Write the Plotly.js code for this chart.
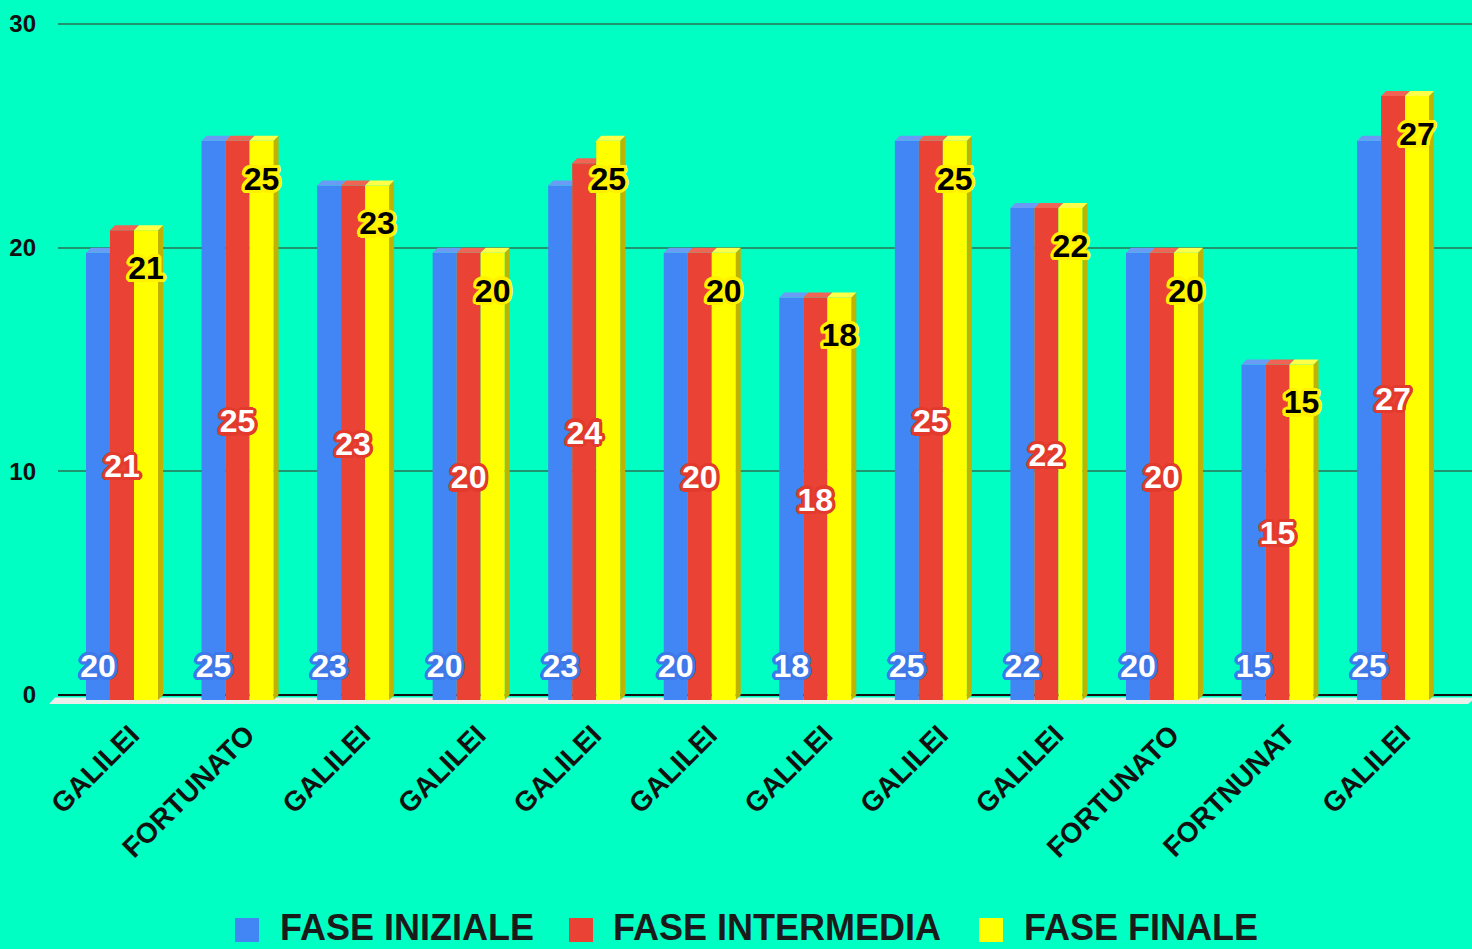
<!DOCTYPE html>
<html>
<head>
<meta charset="utf-8">
<script src="https://cdn.plot.ly/plotly-3.0.1.min.js"></script>
<style>
  html, body { margin: 0; padding: 0; background: #00FFC2; }
  #chart { width: 1472px; height: 949px; }
</style>
</head>
<body>
<div id="chart"></div>
<script>
// ---------------- data ----------------
const categories = ['GALILEI', 'FORTUNATO', 'GALILEI', 'GALILEI', 'GALILEI', 'GALILEI',
                    'GALILEI', 'GALILEI', 'GALILEI', 'FORTUNATO', 'FORTNUNAT', 'GALILEI'];
const faseIniziale   = [20, 25, 23, 20, 23, 20, 18, 25, 22, 20, 15, 25];
const faseIntermedia = [21, 25, 23, 20, 24, 20, 18, 25, 22, 20, 15, 27];
const faseFinale     = [21, 25, 23, 20, 25, 20, 18, 25, 22, 20, 15, 27];
const seriesNames = ['FASE INIZIALE', 'FASE INTERMEDIA', 'FASE FINALE'];
const yTickVals = [0, 10, 20, 30];

// ---------------- styling / geometry ----------------
const FONT = 'Liberation Sans, Arial, Helvetica, sans-serif';
const BG = '#00FFC2';
const colors    = ['#4285F4', '#EA4335', '#FFFF00'];
const topColors = ['#6A9CF6', '#EF6455', '#FFFF4A'];
const sideColor = '#BDB300';
const labelFill    = ['#FFFFFF', '#FFFFFF', '#000000'];
const labelOutline = ['#3F78E8', '#E23A2C', '#FFF200'];

const PL = 58, PR = 1472, PT = 20, PB = 706;        // plot area in px
const W = PR - PL, H = PB - PT;
const xRange = [-0.5539, 11.6833];
const gridRange = [-0.4917, 30.1788];
const pxPerX = W / (xRange[1] - xRange[0]);
const pxPerY = H / (gridRange[1] - gridRange[0]);
const depthPx = 5;
const dx = depthPx / pxPerX;
const dy = depthPx / pxPerY;
const barRange = [gridRange[0] + dy, gridRange[1] + dy];
const barW = 24 / pxPerX;
const centerOff = [-barW, 0, barW];
const labelDrop = 4 / pxPerY;

const px2paperX = p => (p - PL) / W;
const px2paperY = p => (PB - p) / H;

const series = [faseIniziale, faseIntermedia, faseFinale];
const xs = categories.map((_, i) => i);

function outline(c, r) {
  const s = [];
  const d = r * 0.7071;
  s.push(`${r}px 0 0 ${c}`, `-${r}px 0 0 ${c}`, `0 ${r}px 0 ${c}`, `0 -${r}px 0 ${c}`);
  s.push(`${d}px ${d}px 0 ${c}`, `-${d}px -${d}px 0 ${c}`, `${d}px -${d}px 0 ${c}`, `-${d}px ${d}px 0 ${c}`);
  s.push(`${r*0.4}px ${r*0.9}px 0 ${c}`, `-${r*0.4}px ${r*0.9}px 0 ${c}`, `${r*0.4}px -${r*0.9}px 0 ${c}`, `-${r*0.4}px -${r*0.9}px 0 ${c}`);
  s.push(`${r*0.9}px ${r*0.4}px 0 ${c}`, `-${r*0.9}px ${r*0.4}px 0 ${c}`, `${r*0.9}px -${r*0.4}px 0 ${c}`, `-${r*0.9}px -${r*0.4}px 0 ${c}`);
  return s.join(', ');
}

const traces = [];

// side face of the last (yellow) bar — on the back (grid) axes, below the front faces
(function () {
  const px = [], py = [];
  faseFinale.forEach((v, i) => {
    const xr = i + centerOff[2] + barW / 2;
    px.push(xr, xr + dx, xr + dx, xr, xr, null);
    py.push(v - dy, v, 0, -dy, v - dy, null);
  });
  traces.push({
    type: 'scatter', mode: 'lines', x: px, y: py, fill: 'toself',
    fillcolor: sideColor, line: { width: 0, color: sideColor },
    xaxis: 'x', yaxis: 'y', showlegend: false, hoverinfo: 'skip'
  });
})();

// front faces (bars)
series.forEach((vals, s) => {
  traces.push({
    type: 'bar', x: xs, y: vals, name: seriesNames[s],
    width: barW, offset: centerOff[s] - barW / 2,
    marker: { color: colors[s], line: { width: 0 } },
    xaxis: 'x', yaxis: 'y2', showlegend: false, hoverinfo: 'skip'
  });
});

// top faces
series.forEach((vals, s) => {
  const px = [], py = [];
  vals.forEach((v, i) => {
    const xl = i + centerOff[s] - barW / 2, xr = xl + barW;
    const next = s < 2 ? series[s + 1][i] : null;
    if (next !== null && next > v) {
      px.push(xl, xr, xr, xl + dx, xl, null);
      py.push(v, v, v + dy, v + dy, v, null);
    } else {
      px.push(xl, xr, xr + dx, xl + dx, xl, null);
      py.push(v, v, v + dy, v + dy, v, null);
    }
  });
  traces.push({
    type: 'scatter', mode: 'lines', x: px, y: py, fill: 'toself',
    fillcolor: topColors[s], line: { width: 0, color: topColors[s] },
    xaxis: 'x', yaxis: 'y2', showlegend: false, hoverinfo: 'skip'
  });
});

// value labels
const labelY = [
  vals => vals.map(() => 1.56 - labelDrop),
  vals => vals.map(v => v / 2 - labelDrop),
  vals => vals.map(v => v - 1.65 - labelDrop)
];
series.forEach((vals, s) => {
  traces.push({
    type: 'scatter', mode: 'text',
    x: xs.map(i => i + centerOff[s]), y: labelY[s](vals),
    text: vals.map(String), textposition: 'middle center',
    textfont: { family: FONT, size: 32, weight: 'bold', color: labelFill[s],
                shadow: outline(labelOutline[s], 3.2) },
    cliponaxis: false, xaxis: 'x', yaxis: 'y2', showlegend: false, hoverinfo: 'skip'
  });
});

// custom legend (large squares)
const legendItems = [
  { sq: 235, tx: 278 },
  { sq: 569, tx: 611 },
  { sq: 979, tx: 1022 }
];
const shapes = [];
const annotations = [];
// floor
shapes.push({
  type: 'path', xref: 'paper', yref: 'paper', layer: 'below',
  path: `M ${px2paperX(55)} ${px2paperY(697.5)} L ${px2paperX(1476)} ${px2paperY(697.5)} ` +
        `L ${px2paperX(1468)} ${px2paperY(704)} L ${px2paperX(49)} ${px2paperY(704)} Z`,
  fillcolor: '#EAEFEC', line: { width: 0 }
});
legendItems.forEach((it, s) => {
  shapes.push({
    type: 'rect', xref: 'paper', yref: 'paper',
    x0: px2paperX(it.sq), x1: px2paperX(it.sq + 24),
    y0: px2paperY(918), y1: px2paperY(942),
    fillcolor: colors[s], line: { width: 0 }
  });
  annotations.push({
    xref: 'paper', yref: 'paper', x: px2paperX(it.tx), y: px2paperY(927.5),
    xanchor: 'left', yanchor: 'middle', showarrow: false,
    text: seriesNames[s],
    font: { family: FONT, size: 36, weight: 'bold', color: '#1A1A1A' }
  });
});

const layout = {
  width: 1472, height: 949,
  paper_bgcolor: BG, plot_bgcolor: 'rgba(0,0,0,0)',
  margin: { l: PL, r: 1472 - PR, t: PT, b: 949 - PB, pad: 0 },
  barmode: 'overlay',
  showlegend: false,
  xaxis: {
    range: xRange, tickmode: 'array', tickvals: xs, ticktext: categories,
    tickangle: -45, showgrid: false, zeroline: false, showline: false,
    ticks: '', automargin: false, fixedrange: true,
    ticklabelshift: 9, ticklabelstandoff: 6,
    tickfont: { family: FONT, size: 28, weight: 'bold', color: '#111111' }
  },
  yaxis: {
    range: gridRange, tickmode: 'array', tickvals: yTickVals,
    showgrid: true, gridcolor: '#1F9570', gridwidth: 2,
    zeroline: true, zerolinecolor: '#111111', zerolinewidth: 2,
    showline: false, ticks: '', automargin: false, fixedrange: true,
    ticklabelstandoff: 21,
    tickfont: { family: FONT, size: 24, weight: 'bold', color: '#111111' }
  },
  yaxis2: {
    range: barRange, overlaying: 'y', anchor: 'x', side: 'left',
    showgrid: false, zeroline: false, showticklabels: false, showline: false,
    ticks: '', automargin: false, fixedrange: true
  },
  shapes: shapes,
  annotations: annotations
};

Plotly.newPlot('chart', traces, layout, { displayModeBar: false, staticPlot: true });
</script>
</body>
</html>
